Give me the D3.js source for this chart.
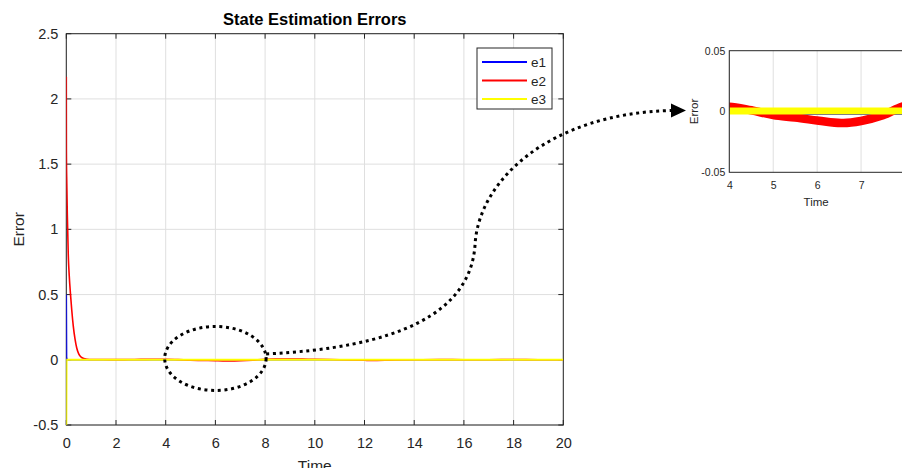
<!DOCTYPE html>
<html>
<head>
<meta charset="utf-8">
<script src="https://cdn.jsdelivr.net/npm/d3@7"></script>
<style>
  body { margin: 0; background: #fff; }
  svg { display: block; font-family: "Liberation Sans", Arial, sans-serif; }
</style>
</head>
<body>
<script>
const w = 902;
const h = 468;

// data
const tE1 = [0, 0.01, 0.04, 1, 5, 10, 15, 20];
const e1 = [0.5, 0.02, 0, 0, 0, 0, 0, 0];

const tE2 = [0, 0.004, 0.02, 0.04, 0.08, 0.12, 0.17, 0.22, 0.28, 0.35, 0.42, 0.5, 0.6, 0.7, 0.85, 1,
  1.5, 2, 2.5, 3, 3.5, 4, 4.5, 5, 5.5, 6, 6.3, 6.6, 7, 7.5, 8, 8.5, 9, 9.5, 10,
  11, 12, 12.5, 13, 14, 15, 16, 17, 18, 19, 20];
const e2 = [2.17, 1.6, 1.35, 1.12, 0.8, 0.64, 0.5, 0.38, 0.26, 0.16, 0.09, 0.045, 0.02, 0.01, 0.004, 0.002,
  0.002, 0.001, 0.002, 0.003, 0.004, 0.004, 0.001, -0.003, -0.005, -0.0074, -0.0088, -0.0095, -0.0078, -0.003, 0.0045, 0.006, 0.0065, 0.005, 0.004,
  0.0, -0.004, -0.005, -0.003, 0.0, 0.0015, 0.0005, 0.0, 0.002, 0.0, 0.0];

const tE3 = [0, 0.01, 1, 3, 5, 7, 10, 15, 20];
const e3 = [-0.5, 0, 0.0005, 0.0005, 0.0005, 0.0005, 0.0005, 0.0005, 0.0005];

const seriesNames = ["e1", "e2", "e3"];
const seriesColors = ["#0000ff", "#ff0000", "#ffff00"];

const xTicks = [0, 2, 4, 6, 8, 10, 12, 14, 16, 18, 20];
const yTicks = [-0.5, 0, 0.5, 1, 1.5, 2, 2.5];
const insetXTicks = [4, 5, 6, 7, 8];
const insetYTicks = [-0.05, 0, 0.05];

const series = [
  { t: tE1, v: e1 },
  { t: tE2, v: e2 },
  { t: tE3, v: e3 }
];

const axisColor = "#262626";
const gridColor = "#dfdfdf";

const svg = d3.select("body").append("svg").attr("width", w).attr("height", h);

// ---------- main axes ----------
const main = { left: 66.3, right: 563.3, top: 33.7, bottom: 425 };

const xScale = d3.scaleLinear().domain([0, 20]).range([main.left, main.right]);
const yScale = d3.scaleLinear().domain([-0.5, 2.5]).range([main.bottom, main.top]);

svg.append("defs").append("clipPath").attr("id", "mainClip")
  .append("rect")
  .attr("x", main.left).attr("y", main.top)
  .attr("width", main.right - main.left).attr("height", main.bottom - main.top);

const gridG = svg.append("g");
gridG.selectAll(".vx").data(xTicks).enter().append("line")
  .attr("x1", d => xScale(d)).attr("x2", d => xScale(d))
  .attr("y1", main.top).attr("y2", main.bottom)
  .attr("stroke", gridColor).attr("stroke-width", 1);
gridG.selectAll(".hy").data(yTicks).enter().append("line")
  .attr("y1", d => yScale(d)).attr("y2", d => yScale(d))
  .attr("x1", main.left).attr("x2", main.right)
  .attr("stroke", gridColor).attr("stroke-width", 1);

// axes with inner ticks on all four sides
const xAxis = d3.axisBottom(xScale).tickValues(xTicks).tickSize(0).tickPadding(13).tickFormat(d3.format("d"));
const yAxis = d3.axisLeft(yScale).tickValues(yTicks).tickSize(0).tickPadding(8).tickFormat(d => d);

function styleAxis(g) {
  g.select(".domain").remove();
  g.selectAll("text").attr("fill", axisColor).style("font-size", "14.5px");
}

svg.append("g").attr("transform", "translate(0," + main.bottom + ")").call(xAxis).call(styleAxis);
svg.append("g").attr("transform", "translate(" + main.left + ",0)").call(yAxis).call(styleAxis);

const tickG = svg.append("g").attr("stroke", axisColor).attr("stroke-width", 1);
xTicks.forEach(function (d) {
  tickG.append("line").attr("x1", xScale(d)).attr("x2", xScale(d)).attr("y1", main.bottom).attr("y2", main.bottom - 5);
  tickG.append("line").attr("x1", xScale(d)).attr("x2", xScale(d)).attr("y1", main.top).attr("y2", main.top + 5);
});
yTicks.forEach(function (d) {
  tickG.append("line").attr("y1", yScale(d)).attr("y2", yScale(d)).attr("x1", main.left).attr("x2", main.left + 5);
  tickG.append("line").attr("y1", yScale(d)).attr("y2", yScale(d)).attr("x1", main.right).attr("x2", main.right - 5);
});

svg.append("rect")
  .attr("x", main.left).attr("y", main.top)
  .attr("width", main.right - main.left).attr("height", main.bottom - main.top)
  .attr("fill", "none").attr("stroke", axisColor).attr("stroke-width", 1);

// lines
const mainLine = d3.line()
  .curve(d3.curveMonotoneX)
  .x(d => xScale(d[0]))
  .y(d => yScale(d[1]));

const linesG = svg.append("g").attr("clip-path", "url(#mainClip)");
series.forEach(function (s, i) {
  linesG.append("path")
    .datum(s.t.map((t, k) => [t, s.v[k]]))
    .attr("d", mainLine)
    .attr("fill", "none")
    .attr("stroke", seriesColors[i])
    .attr("stroke-width", i === 2 ? 2 : 1.6);
});

// title and labels
svg.append("text")
  .attr("x", (main.left + main.right) / 2).attr("y", 25)
  .attr("text-anchor", "middle")
  .style("font-size", "16.5px").style("font-weight", "bold")
  .attr("fill", "#000")
  .text("State Estimation Errors");

svg.append("text")
  .attr("x", (main.left + main.right) / 2).attr("y", 471)
  .attr("text-anchor", "middle")
  .style("font-size", "15.5px").attr("fill", axisColor)
  .text("Time");

svg.append("text")
  .attr("transform", "translate(24," + (main.top + main.bottom) / 2 + ") rotate(-90)")
  .attr("text-anchor", "middle")
  .style("font-size", "15.5px").attr("fill", axisColor)
  .text("Error");

// legend
const legend = svg.append("g").attr("transform", "translate(477,48)");
legend.append("rect")
  .attr("width", 75).attr("height", 61)
  .attr("fill", "#fff").attr("stroke", axisColor).attr("stroke-width", 1);
seriesNames.forEach(function (name, i) {
  const ly = 14 + i * 18.5;
  legend.append("line")
    .attr("x1", 5).attr("x2", 50).attr("y1", ly).attr("y2", ly)
    .attr("stroke", seriesColors[i]).attr("stroke-width", 2);
  legend.append("text")
    .attr("x", 54).attr("y", ly + 5)
    .style("font-size", "13.5px").attr("fill", axisColor)
    .text(name);
});

// ---------- inset axes ----------
const inset = { left: 729.3, right: 905, top: 50.7, bottom: 172.3 };

const xInset = d3.scaleLinear().domain([4, 8]).range([inset.left, inset.right]);
const yInset = d3.scaleLinear().domain([-0.05, 0.05]).range([inset.bottom, inset.top]);

svg.select("defs").append("clipPath").attr("id", "insetClip")
  .append("rect")
  .attr("x", inset.left).attr("y", inset.top)
  .attr("width", inset.right - inset.left).attr("height", inset.bottom - inset.top);

const insetGrid = svg.append("g");
insetGrid.selectAll("line").data(insetXTicks).enter().append("line")
  .attr("x1", d => xInset(d)).attr("x2", d => xInset(d))
  .attr("y1", inset.top).attr("y2", inset.bottom)
  .attr("stroke", gridColor).attr("stroke-width", 1);

const insetLine = d3.line()
  .curve(d3.curveMonotoneX)
  .x(d => xInset(d[0]))
  .y(d => yInset(d[1]));

// same series, zoomed to the window 4..8 (outside part clipped)
const insetLinesG = svg.append("g").attr("clip-path", "url(#insetClip)");
series.forEach(function (s, i) {
  insetLinesG.append("path")
    .datum(s.t.map((t, k) => [t, s.v[k]]).filter(d => d[0] >= 2 && d[0] <= 11))
    .attr("d", insetLine)
    .attr("fill", "none")
    .attr("stroke", seriesColors[i])
    .attr("stroke-width", i === 1 ? 8.5 : 7);
});

const xAxisInset = d3.axisBottom(xInset).tickValues(insetXTicks).tickSize(0).tickPadding(9).tickFormat(d3.format("d"));
const yAxisInset = d3.axisLeft(yInset).tickValues(insetYTicks).tickSize(0).tickPadding(4).tickFormat(d => d);

function styleInsetAxis(g) {
  g.select(".domain").remove();
  g.selectAll("text").attr("fill", axisColor).style("font-size", "10.5px");
}

svg.append("g").attr("transform", "translate(0," + inset.bottom + ")").call(xAxisInset).call(styleInsetAxis);
svg.append("g").attr("transform", "translate(" + inset.left + ",0)").call(yAxisInset).call(styleInsetAxis);

svg.append("rect")
  .attr("x", inset.left).attr("y", inset.top)
  .attr("width", inset.right - inset.left).attr("height", inset.bottom - inset.top)
  .attr("fill", "none").attr("stroke", axisColor).attr("stroke-width", 1);

svg.append("text")
  .attr("x", (inset.left + inset.right) / 2 - 1).attr("y", 206)
  .attr("text-anchor", "middle")
  .style("font-size", "11.5px").attr("fill", axisColor)
  .text("Time");

svg.append("text")
  .attr("transform", "translate(698," + yInset(0) + ") rotate(-90)")
  .attr("text-anchor", "middle")
  .style("font-size", "11.5px").attr("fill", axisColor)
  .text("Error");

// ---------- zoom annotation ----------
const annot = svg.append("g")
  .attr("fill", "none").attr("stroke", "#000")
  .attr("stroke-width", 3).attr("stroke-dasharray", "3,3.7");

annot.append("ellipse")
  .attr("cx", xScale(6)).attr("cy", yScale(0.01))
  .attr("rx", xScale(8) - xScale(6) + 1).attr("ry", 32);

const sx = xScale(8) + 1, sy = yScale(0.045);
const ex = 671, ey = yInset(0) - 1;
annot.append("path")
  .attr("d", "M" + sx + "," + sy +
    " C" + (sx + 130) + "," + (sy - 6) + " " + (sx + 205) + "," + (sy - 40) + " " + (sx + 209) + "," + (sy - 110) +
    " C" + (sx + 213) + "," + (sy - 175) + " " + (sx + 285) + "," + (ey + 3) + " " + ex + "," + ey);

svg.append("path")
  .attr("d", "M" + ex + "," + (ey - 7) + " L" + (ex + 15) + "," + ey + " L" + ex + "," + (ey + 7) + " Z")
  .attr("fill", "#000");
</script>
</body>
</html>
